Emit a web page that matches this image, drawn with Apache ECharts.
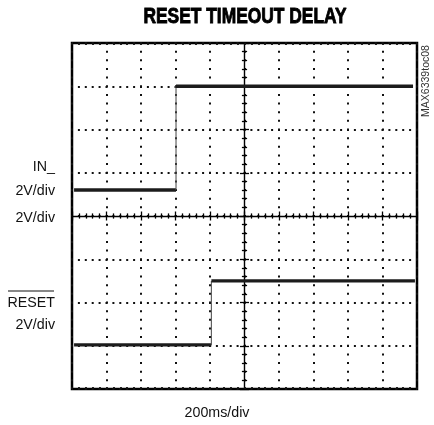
<!DOCTYPE html>
<html><head><meta charset="utf-8">
<script src="https://cdn.jsdelivr.net/npm/echarts@6/dist/echarts.min.js"></script>
<style>html,body{margin:0;padding:0;background:#fff}#c{width:434px;height:425px}</style>
</head><body><div id="c"></div>
<script>
// ---- data ----
const title = 'RESET TIMEOUT DELAY';
const xLabel = '200ms/div';
const inLabel = ['IN_', '2V/div'];
const midLabel = '2V/div';
const resetLabel = ['RESET', '2V/div'];
const figId = 'MAX6339toc08';
// time axis in ms (200 ms/div, 10 div); level in screen divisions (8 div)
const timeMin = 0, timeMax = 2000, timeStep = 200;
const levelMin = 0, levelMax = 8, levelStep = 1;
const inTrace = [[12, 4.6], [603, 4.6], [603, 7.0], [1977, 7.0]];
const resetTrace = [[12, 1.02], [808, 1.02], [808, 2.5], [1988, 2.5]];

// ---- chart ----
const chart = echarts.init(document.getElementById('c'), null, {renderer: 'canvas'});
const FONT = '"Liberation Sans", Arial, Helvetica, sans-serif';

function segSeries(trace) {
  const out = [];
  for (let i = 0; i < trace.length - 1; i++) {
    const a = trace[i], b = trace[i + 1];
    const horiz = a[1] === b[1];
    out.push({
      type: 'line', xAxisIndex: 0, yAxisIndex: 0, showSymbol: false, silent: true,
      animation: false, z: 5,
      data: [a, b],
      lineStyle: horiz ? {color: '#1c1c1c', width: 3.4} : {color: '#555', width: 1.1}
    });
  }
  return out;
}

const dotTick = {show: true, inside: true, length: 2, lineStyle: {color: '#111', width: 1.8}};
const dotMinor = {show: true, splitNumber: 5, length: 2, lineStyle: {color: '#111', width: 1.8}};
const crossTick = {show: true, inside: true, length: 4.5, lineStyle: {color: '#000', width: 1.3}};
const crossMinor = {show: true, splitNumber: 5, length: 2.6, lineStyle: {color: '#000', width: 1.3}};
const baseX = {type: 'value', min: timeMin, max: timeMax, interval: timeStep,
  axisLabel: {show: false}, splitLine: {show: false}};
const baseY = {type: 'value', min: levelMin, max: levelMax, interval: levelStep,
  axisLabel: {show: false}, splitLine: {show: false}};

chart.setOption({
  animation: false,
  backgroundColor: '#fff',
  grid: {left: 72, top: 43, width: 345, height: 346, show: true,
    borderColor: '#000', borderWidth: 2.5, backgroundColor: 'transparent',
    outerBoundsMode: 'none', containLabel: false},
  xAxis: [
    Object.assign({}, baseX, {position: 'bottom',
      axisLine: {show: false, onZero: false}, axisTick: dotTick, minorTick: dotMinor,
      splitLine: {show: true, lineStyle: {color: '#111', width: 2, type: [2, 6.65], dashOffset: 1}}}),
    Object.assign({}, baseX, {position: 'top',
      axisLine: {show: false, onZero: false}, axisTick: dotTick, minorTick: dotMinor}),
    Object.assign({}, baseX, {position: 'bottom', offset: -173,
      axisLine: {show: true, onZero: false, lineStyle: {color: '#000', width: 1.4}},
      axisTick: crossTick, minorTick: crossMinor}),
    Object.assign({}, baseX, {position: 'top', offset: -173,
      axisLine: {show: false, onZero: false}, axisTick: crossTick, minorTick: crossMinor})
  ],
  yAxis: [
    Object.assign({}, baseY, {position: 'left',
      axisLine: {show: false, onZero: false}, axisTick: {show: false},
      splitLine: {show: true, lineStyle: {color: '#111', width: 2, type: [2, 4.9], dashOffset: 1}}}),
    Object.assign({}, baseY, {position: 'left', offset: -172.5,
      axisLine: {show: true, onZero: false, lineStyle: {color: '#000', width: 1.4}},
      axisTick: crossTick, minorTick: crossMinor}),
    Object.assign({}, baseY, {position: 'right', offset: -172.5,
      axisLine: {show: false, onZero: false}, axisTick: crossTick, minorTick: crossMinor})
  ],
  series: [].concat(segSeries(inTrace), segSeries(resetTrace)),
  graphic: [
    {type: 'text', x: 245, y: 17, scaleX: 0.79, style: {text: title,
      font: 'bold 22px ' + FONT, fill: '#000', stroke: '#000', lineWidth: 0.9,
      textAlign: 'center', textVerticalAlign: 'middle'}},
    {type: 'text', x: 55, y: 167, scaleX: 0.95, style: {text: inLabel[0],
      font: '15px ' + FONT, fill: '#111', textAlign: 'right', textVerticalAlign: 'middle'}},
    {type: 'text', x: 55, y: 191, scaleX: 0.95, style: {text: inLabel[1],
      font: '15px ' + FONT, fill: '#111', textAlign: 'right', textVerticalAlign: 'middle'}},
    {type: 'text', x: 55, y: 218, scaleX: 0.95, style: {text: midLabel,
      font: '15px ' + FONT, fill: '#111', textAlign: 'right', textVerticalAlign: 'middle'}},
    {type: 'text', x: 55, y: 303, scaleX: 0.95, style: {text: resetLabel[0],
      font: '15px ' + FONT, fill: '#111', textAlign: 'right', textVerticalAlign: 'middle'}},
    {type: 'line', shape: {x1: 8, y1: 291, x2: 54, y2: 291}, style: {stroke: '#111', lineWidth: 1.2}},
    {type: 'text', x: 55, y: 325, scaleX: 0.95, style: {text: resetLabel[1],
      font: '15px ' + FONT, fill: '#111', textAlign: 'right', textVerticalAlign: 'middle'}},
    {type: 'text', x: 217, y: 413, scaleX: 0.95, style: {text: xLabel,
      font: '15px ' + FONT, fill: '#111', textAlign: 'center', textVerticalAlign: 'middle'}},
    {type: 'text', x: 426.5, y: 81, rotation: Math.PI / 2, style: {text: figId,
      font: '10.5px ' + FONT, fill: '#333', textAlign: 'center', textVerticalAlign: 'middle'}}
  ]
});
</script>
</body></html>
